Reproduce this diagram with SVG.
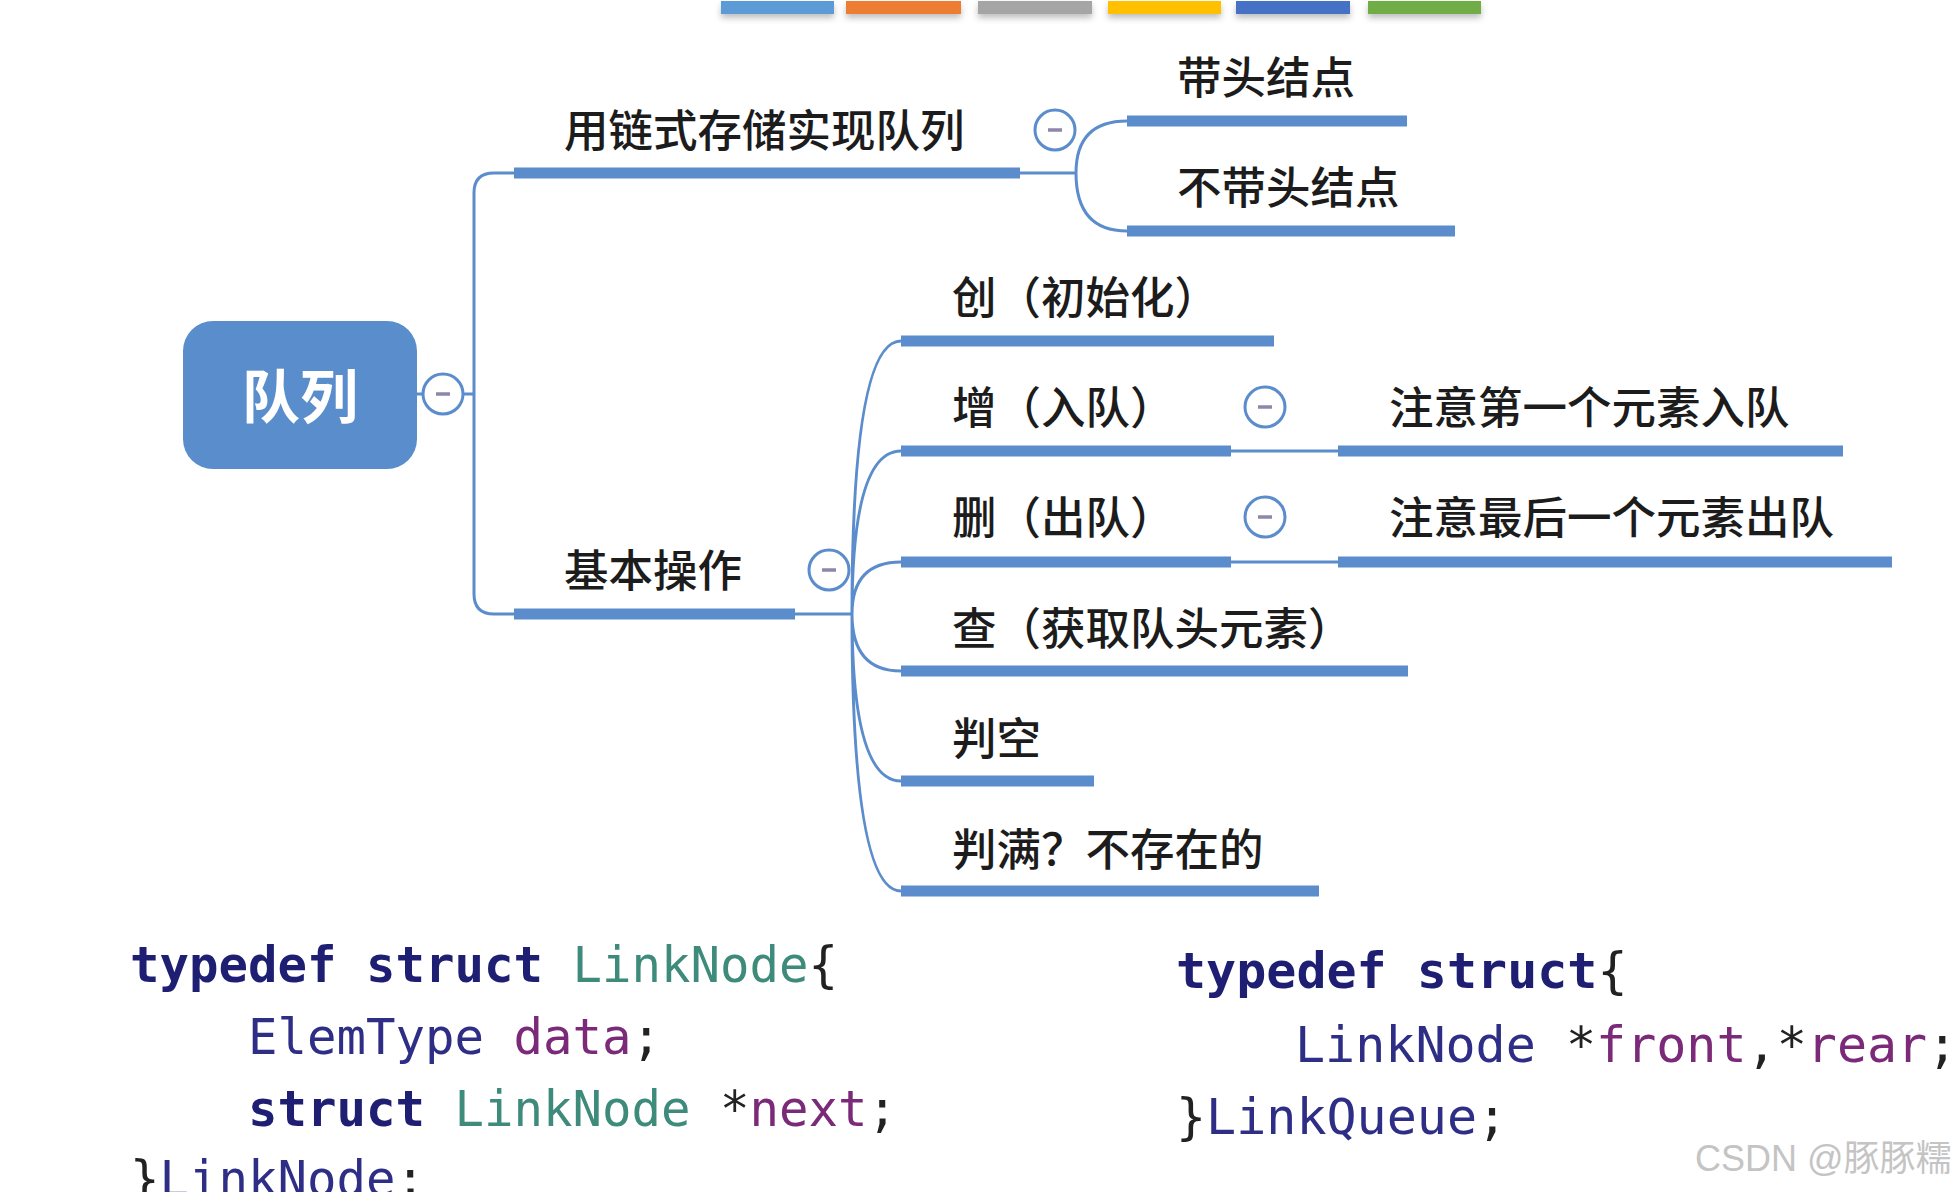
<svg xmlns="http://www.w3.org/2000/svg" width="1957" height="1192" viewBox="0 0 1957 1192">
<defs>
<filter id="sh" x="-10%" y="-50%" width="120%" height="300%">
<feDropShadow dx="0" dy="4" stdDeviation="3" flood-color="#000" flood-opacity="0.25"/>
</filter>
<style>
.t{font-family:"Noto Sans CJK SC","Noto Sans",sans-serif;font-size:44.5px;font-weight:500;fill:#1c1c1c}
.ul{fill:#5b8ccc}
.ln{fill:none;stroke:#5b8ccc;stroke-width:3}
.cb{fill:#fff;stroke:#5b8ccc;stroke-width:3}
.cm{stroke:#8f86aa;stroke-width:3.5}
.code{font-family:"DejaVu Sans Mono","Liberation Mono",monospace;font-size:49px;fill:#222}
.kw{font-weight:bold;fill:#1e1e72}
.ty{fill:#3e8b7c}
.nv{fill:#2e2e86}
.vr{fill:#7a2a78}
</style>
</defs>
<rect width="1957" height="1192" fill="#fff"/>
<g id="palette" filter="url(#sh)">
<rect x="721" y="1" width="113" height="13" fill="#5b9bd5"/>
<rect x="846" y="1" width="115" height="13" fill="#ed7d31"/>
<rect x="978" y="1" width="114" height="13" fill="#a5a5a5"/>
<rect x="1108" y="1" width="113" height="13" fill="#ffc000"/>
<rect x="1236" y="1" width="114" height="13" fill="#4472c4"/>
<rect x="1368" y="1" width="113" height="13" fill="#70ad47"/>
</g>
<g id="connectors">
<path class="ln" d="M417,394 H423 M463,394 H474"/>
<path class="ln" d="M514,173 H494 Q474,173 474,193 V594 Q474,614 494,614 H514"/>
<path class="ln" d="M1020,173 H1076 M1076,173 Q1076,121 1127,121 M1076,173 Q1076,231 1127,231"/>
<path class="ln" d="M795,614 H852"/>
<path class="ln" d="M852,614 Q852,341 901,341 M852,614 Q852,451 901,451 M852,614 Q852,562 901,562 M852,614 Q852,671 901,671 M852,614 Q852,781 901,781 M852,614 Q852,891 901,891"/>
<path class="ln" d="M1231,451 H1338 M1231,562 H1338"/>
</g>
<g id="n-root">
<rect x="183" y="321" width="234" height="148" rx="30" fill="#5a8dcc"/>
<text x="300" y="418" text-anchor="middle" font-family="Noto Sans CJK SC,sans-serif" font-size="58" font-weight="bold" fill="#fff">队列</text>
<circle class="cb" cx="443" cy="394" r="20"/><line class="cm" x1="436" y1="394" x2="450" y2="394"/>
</g>
<g id="n-link">
<rect class="ul" x="514" y="167.5" width="506" height="11"/>
<text class="t" x="564" y="147">用链式存储实现队列</text>
<circle class="cb" cx="1055" cy="130" r="20"/><line class="cm" x1="1048" y1="130" x2="1062" y2="130"/>
</g>
<g id="n-head">
<rect class="ul" x="1127" y="115.5" width="280" height="11"/>
<text class="t" x="1177" y="94">带头结点</text>
</g>
<g id="n-nohead">
<rect class="ul" x="1127" y="225.5" width="328" height="11"/>
<text class="t" x="1177" y="204">不带头结点</text>
</g>
<g id="n-ops">
<rect class="ul" x="514" y="608.5" width="281" height="11"/>
<text class="t" x="564" y="587">基本操作</text>
<circle class="cb" cx="829" cy="570" r="20"/><line class="cm" x1="822" y1="570" x2="836" y2="570"/>
</g>
<g id="n-create">
<rect class="ul" x="901" y="335.5" width="373" height="11"/>
<text class="t" x="952" y="314">创（初始化）</text>
</g>
<g id="n-enq">
<rect class="ul" x="901" y="445.5" width="330" height="11"/>
<text class="t" x="952" y="424">增（入队）</text>
<circle class="cb" cx="1265" cy="407" r="20"/><line class="cm" x1="1258" y1="407" x2="1272" y2="407"/>
</g>
<g id="n-enq-note">
<rect class="ul" x="1338" y="445.5" width="505" height="11"/>
<text class="t" x="1389" y="424">注意第一个元素入队</text>
</g>
<g id="n-deq">
<rect class="ul" x="901" y="556.5" width="330" height="11"/>
<text class="t" x="952" y="534">删（出队）</text>
<circle class="cb" cx="1265" cy="517" r="20"/><line class="cm" x1="1258" y1="517" x2="1272" y2="517"/>
</g>
<g id="n-deq-note">
<rect class="ul" x="1338" y="556.5" width="554" height="11"/>
<text class="t" x="1389" y="534">注意最后一个元素出队</text>
</g>
<g id="n-get">
<rect class="ul" x="901" y="665.5" width="507" height="11"/>
<text class="t" x="952" y="645">查（获取队头元素）</text>
</g>
<g id="n-empty">
<rect class="ul" x="901" y="775.5" width="193" height="11"/>
<text class="t" x="952" y="755">判空</text>
</g>
<g id="n-full">
<rect class="ul" x="901" y="885.5" width="418" height="11"/>
<text class="t" x="952" y="866">判满？不存在的</text>
</g>
<g id="code-linknode" class="code">
<text x="130" y="982" xml:space="preserve"><tspan class="kw">typedef struct</tspan> <tspan class="ty">LinkNode</tspan>{</text>
<text x="248" y="1054" xml:space="preserve"><tspan class="nv">ElemType</tspan> <tspan class="vr">data</tspan>;</text>
<text x="248" y="1126" xml:space="preserve"><tspan class="kw">struct</tspan> <tspan class="ty">LinkNode</tspan> *<tspan class="vr">next</tspan>;</text>
<text x="130" y="1196">}<tspan class="nv">LinkNode</tspan>;</text>
</g>
<g id="code-linkqueue" class="code" style="font-size:50px">
<text x="1176" y="988"><tspan class="kw">typedef struct</tspan>{</text>
<text x="1295" y="1062" xml:space="preserve"><tspan class="nv">LinkNode</tspan> *<tspan class="vr">front</tspan>,*<tspan class="vr">rear</tspan>;</text>
<text x="1176" y="1134">}<tspan class="nv">LinkQueue</tspan>;</text>
</g>
<text id="watermark" x="1695" y="1171" font-family="Liberation Sans,Noto Sans CJK SC,sans-serif" font-size="36" fill="#c4c4c4">CSDN @豚豚糯</text>
</svg>
